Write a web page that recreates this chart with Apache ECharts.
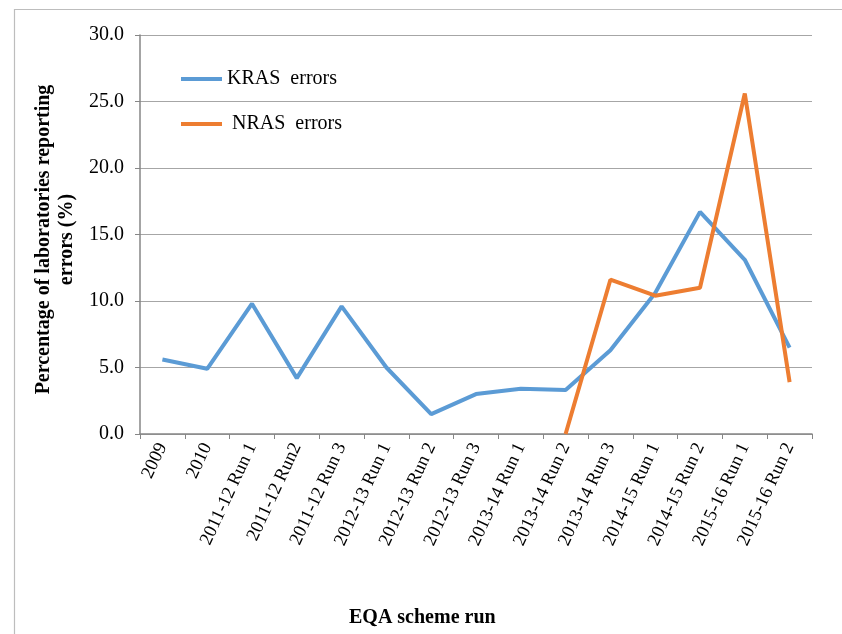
<!DOCTYPE html>
<html><head><meta charset="utf-8">
<script src="https://cdn.jsdelivr.net/npm/echarts@6/dist/echarts.min.js"></script>
<style>html,body{margin:0;padding:0;background:#fff}#c{width:842px;height:634px}</style>
</head><body><div id="c"></div>
<script>
const categories = ['2009','2010','2011-12 Run 1','2011-12 Run2','2011-12 Run 3','2012-13 Run 1','2012-13 Run 2','2012-13 Run 3','2013-14 Run 1','2013-14 Run 2','2013-14 Run 3','2014-15 Run 1','2014-15 Run 2','2015-16 Run 1','2015-16 Run 2'];
const krasErrors = [5.6, 4.9, 9.8, 4.2, 9.6, 5.0, 1.5, 3.0, 3.4, 3.3, 6.3, 10.6, 16.7, 13.1, 6.5];
const nrasErrors = [null, null, null, null, null, null, null, null, null, 0.0, 11.6, 10.4, 11.0, 25.6, 3.9];
const yTicks = { min: 0, max: 30, interval: 5 };

const font = '"Liberation Serif", "Times New Roman", serif';
const chart = echarts.init(document.getElementById('c'), null, {renderer: 'canvas'});
chart.setOption({
  animation: false,
  backgroundColor: '#fff',
  textStyle: { fontFamily: font },
  graphic: [
    { type: 'rect', left: 12, top: 7, shape: { width: 860, height: 660 }, style: { fill: 'none', stroke: '#bdbdbd', lineWidth: 1.2 }, silent: true, z: -1 },
    { type: 'text', left: 349, top: 608, style: { text: 'EQA scheme run', font: 'bold 20px ' + font, fill: '#000' } }
  ],
  grid: { left: 140, right: 30, top: 35, bottom: 200 },
  legend: {
    orient: 'vertical', left: 181, top: 69, itemGap: 25, padding: 0,
    itemWidth: 41, itemHeight: 4, icon: 'rect',
    textStyle: { fontFamily: font, fontSize: 20, lineHeight: 20, color: '#000' },
    data: [
      { name: 'KRAS  errors' },
      { name: 'NRAS  errors', textStyle: { padding: [0, 0, 0, 5] } }
    ]
  },
  xAxis: {
    type: 'category', data: categories, boundaryGap: true,
    axisLine: { lineStyle: { color: '#868686', width: 1.5 } },
    axisTick: { show: true, length: 5, lineStyle: { color: '#868686' } },
    axisLabel: { rotate: 65, fontSize: 18.5, color: '#000', margin: 10, fontFamily: font, interval: 0 }
  },
  yAxis: {
    type: 'value', min: yTicks.min, max: yTicks.max, interval: yTicks.interval,
    name: 'Percentage of laboratories reporting\nerrors (%)', nameLocation: 'middle', nameGap: 62,
    nameTextStyle: { fontFamily: font, fontSize: 20, fontWeight: 'bold', color: '#000', lineHeight: 23, padding: [0, 10, 0, 0] },
    axisLine: { show: true, lineStyle: { color: '#868686', width: 1.5 } },
    axisTick: { show: true, length: 5, lineStyle: { color: '#868686' } },
    axisLabel: { fontSize: 20, color: '#000', margin: 16, fontFamily: font, formatter: v => v.toFixed(1) },
    splitLine: { lineStyle: { color: '#a6a6a6', width: 1.2 } }
  },
  series: [
    { name: 'KRAS  errors', type: 'line', data: krasErrors, symbol: 'none', lineStyle: { color: '#5b9bd5', width: 4 }, itemStyle: { color: '#5b9bd5' } },
    { name: 'NRAS  errors', type: 'line', data: nrasErrors, symbol: 'none', lineStyle: { color: '#ed7d31', width: 4 }, itemStyle: { color: '#ed7d31' } }
  ]
});
</script></body></html>
